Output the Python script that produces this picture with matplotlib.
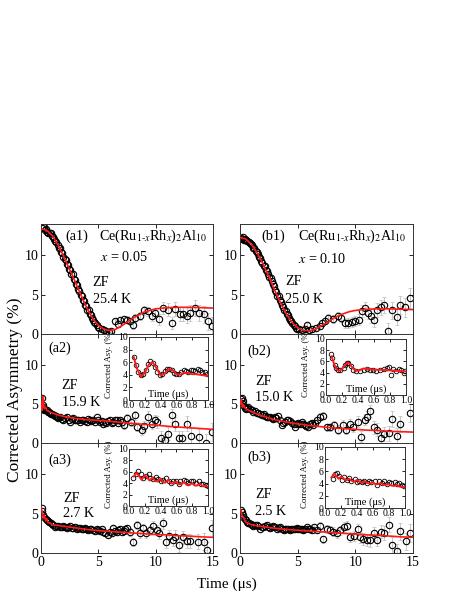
import matplotlib
matplotlib.use("Agg")
import matplotlib.pyplot as plt
import numpy as np

plt.rcParams['font.family'] = ['Liberation Serif', 'DejaVu Serif']
plt.rcParams['mathtext.fontset'] = 'stix'

# ---------------- main panels: data (early dense part, late part with errors) and fits
# (a1) x = 0.05, 25.4 K
t_a1 = [0.05, 0.15, 0.25, 0.35, 0.45, 0.55, 0.65, 0.75, 0.85, 0.95,
        1.05, 1.15, 1.25, 1.35, 1.45, 1.55, 1.65, 1.75, 1.85, 1.95,
        2.05, 2.15, 2.25, 2.35, 2.45, 2.55, 2.65, 2.75, 2.85, 2.95,
        3.05, 3.15, 3.25, 3.35, 3.45, 3.55, 3.65, 3.75, 3.85, 3.95,
        4.05, 4.15, 4.25, 4.35, 4.45, 4.55, 4.65, 4.75, 4.85, 4.95]
A_a1 = [13.5, 13.7, 13.6, 13.3, 13.4, 13.0, 12.9, 12.8, 12.8, 12.5,
        12.3, 12.1, 11.8, 11.7, 11.3, 11.0, 10.9, 10.4, 10.3, 9.8,
        9.6, 9.4, 8.9, 8.8, 8.3, 8.1, 7.7, 7.6, 7.0, 6.9,
        6.4, 6.2, 5.7, 5.5, 5.0, 4.8, 4.3, 4.2, 3.7, 3.6,
        3.1, 3.0, 2.5, 2.4, 2.0, 1.8, 1.5, 1.4, 1.1, 0.9]
t_a1_late = [5.1, 5.3, 5.5, 5.7, 5.9, 6.1, 6.45, 6.7, 6.9, 7.2,
             7.5, 7.76, 8.0, 8.2, 8.6, 8.95, 9.35, 9.65, 9.9, 10.3,
             10.66, 11.1, 11.4, 11.7, 12.1, 12.4, 12.7, 13.0, 13.4, 13.8,
             14.2, 14.6, 14.9]
A_a1_late = [0.75, 0.6, 0.5, 0.4, 0.3, 0.35, 1.6, 1.3, 1.8, 1.9,
             1.8, 1.6, 1.2, 2.0, 2.3, 3.0, 2.9, 2.3, 2.7, 1.85,
             3.3, 3.1, 1.4, 3.2, 2.5, 2.6, 2.3, 2.7, 3.3, 2.7,
             2.5, 1.6, 1.0]
e_a1_late = [0.2, 0.2, 0.2, 0.25, 0.25, 0.3, 0.35, 0.35, 0.4, 0.4,
             0.45, 0.45, 0.5, 0.5, 0.55, 0.6, 0.6, 0.65, 0.65, 0.7,
             0.75, 0.8, 0.8, 0.85, 0.9, 0.9, 0.95, 1.0, 1.0, 1.05,
             1.1, 1.1, 1.15]
tf_a1 = [0, 0.5, 1, 1.5, 2, 2.5, 3, 3.5, 4, 4.5, 5, 5.5, 6, 6.5, 7, 7.5, 8, 8.5, 9, 9.5,
         10, 11, 12, 13, 14, 15]
Af_a1 = [13.4, 13.2, 12.5, 11.3, 9.8, 8.2, 6.6, 4.9, 3.3, 2.0, 1.1, 0.6, 0.45, 0.6, 1.0,
         1.5, 2.0, 2.4, 2.8, 3.0, 3.2, 3.35, 3.4, 3.4, 3.35, 3.3]

# (b1) x = 0.10, 25.0 K
t_b1 = t_a1
A_b1 = [12.2, 12.1, 12.3, 12.0, 12.1, 12.0, 11.8, 11.7, 11.6, 11.4,
        11.3, 11.0, 10.9, 10.6, 10.4, 10.2, 9.8, 9.7, 9.3, 9.1,
        8.7, 8.6, 8.2, 8.0, 7.7, 7.2, 7.1, 6.7, 6.4, 6.1,
        5.6, 5.4, 4.9, 4.8, 4.3, 4.1, 3.7, 3.5, 3.1, 2.9,
        2.5, 2.4, 2.0, 1.8, 1.6, 1.4, 1.1, 1.0, 0.8, 0.7]
t_b1_late = [5.1, 5.35, 5.6, 5.8, 6.0, 6.2, 6.6, 6.9, 7.1, 7.37,
             7.66, 8.1, 8.5, 8.8, 9.1, 9.4, 9.7, 9.95, 10.3, 10.6,
             10.8, 11.1, 11.4, 11.6, 11.9, 12.2, 12.5, 12.85, 13.2, 13.6,
             13.9, 14.3, 14.7]
A_b1_late = [0.6, 0.5, 0.7, 1.1, 0.5, 0.7, 0.8, 1.0, 1.4, 1.7,
             2.1, 1.9, 2.3, 2.1, 1.35, 1.4, 1.55, 1.7, 1.8, 2.9,
             3.3, 2.7, 2.3, 1.8, 3.1, 3.4, 3.7, 0.4, 3.0, 2.2,
             3.7, 3.4, 4.6]
e_b1_late = [0.2, 0.2, 0.25, 0.25, 0.25, 0.3, 0.35, 0.35, 0.4, 0.4,
             0.45, 0.5, 0.5, 0.55, 0.6, 0.6, 0.65, 0.65, 0.7, 0.75,
             0.75, 0.8, 0.85, 0.85, 0.9, 0.95, 1.0, 1.0, 1.05, 1.1,
             1.15, 1.2, 1.3]
tf_b1 = tf_a1
Af_b1 = [12.3, 12.1, 11.4, 10.3, 8.9, 7.3, 5.6, 4.0, 2.6, 1.5, 0.8, 0.45, 0.4, 0.6, 1.0,
         1.4, 1.9, 2.3, 2.6, 2.85, 3.0, 3.15, 3.2, 3.2, 3.15, 3.1]

# (a2) 15.9 K
t_a2 = [0.05, 0.1, 0.15, 0.2, 0.25, 0.3, 0.4, 0.5, 0.6, 0.7,
        0.8, 0.9, 1.0, 1.1, 1.2, 1.3, 1.4, 1.5, 1.65, 1.8,
        1.95, 2.1, 2.24, 2.4, 2.53, 2.7, 2.82, 2.95, 3.1, 3.25,
        3.4, 3.55, 3.7, 3.85, 3.98, 4.1, 4.27, 4.4, 4.56, 4.7,
        4.85]
A_a2 = [4.5, 5.8, 4.6, 4.9, 4.4, 4.3, 4.2, 4.2, 4.0, 4.0,
        3.8, 3.7, 3.7, 3.6, 3.5, 3.45, 3.4, 3.2, 3.3, 3.1,
        3.0, 3.2, 3.3, 3.0, 2.7, 3.1, 3.15, 2.9, 3.0, 2.9,
        2.7, 3.0, 2.9, 2.8, 2.7, 3.1, 3.0, 2.8, 2.9, 2.7,
        3.3]
t_a2_late = [5.0, 5.14, 5.28, 5.4, 5.55, 5.7, 5.85, 6.0, 6.15, 6.3,
             6.45, 6.6, 6.75, 6.9, 7.05, 7.24, 7.5, 7.82, 8.2, 8.4,
             8.78, 9.0, 9.36, 9.65, 9.94, 10.1, 10.5, 10.8, 11.1, 11.4,
             11.7, 12.0, 12.3, 12.7, 13.1, 13.8, 14.4, 14.9]
A_a2_late = [2.9, 2.7, 2.8, 2.5, 2.7, 2.6, 2.8, 2.9, 2.6, 2.7,
             2.9, 2.9, 2.6, 2.9, 2.7, 2.3, 3.15, 2.7, 3.55, 2.1,
             1.65, 2.2, 3.4, 2.5, 2.9, 2.7, 0.7, 0.38, 1.2, 3.55,
             2.5, 0.7, 0.6, 2.5, 0.95, 0.8, 0.05, 1.4]
e_a2_late = [0.3, 0.3, 0.3, 0.3, 0.35, 0.35, 0.35, 0.4, 0.4, 0.4,
             0.4, 0.45, 0.45, 0.45, 0.5, 0.5, 0.55, 0.55, 0.6, 0.6,
             0.65, 0.65, 0.7, 0.7, 0.75, 0.75, 0.8, 0.8, 0.85, 0.85,
             0.9, 0.9, 0.95, 0.95, 1.0, 1.05, 1.1, 1.15]
tf_a2 = [0, 0.05, 0.1, 0.15, 0.2, 0.25, 0.3, 0.4, 0.5, 0.75, 1, 1.5, 2, 3, 4, 5, 6, 7, 8, 9,
         10, 11, 12, 13, 14, 15]
Af_a2 = [4.6, 5.2, 4.2, 5.5, 6.0, 4.6, 4.4, 4.6, 4.2, 4.0, 3.85, 3.6, 3.4, 3.15, 3.0, 2.9,
         2.8, 2.65, 2.5, 2.4, 2.3, 2.15, 2.05, 1.95, 1.85, 1.75]

# (a3) 2.7 K
t_a3 = [0.05, 0.1, 0.2, 0.3, 0.4, 0.5, 0.6, 0.74, 0.85, 0.93,
        1.05, 1.22, 1.35, 1.5, 1.65, 1.8, 1.95, 2.1, 2.25, 2.38,
        2.52, 2.67, 2.8, 2.96, 3.1, 3.25, 3.4, 3.54, 3.68, 3.8,
        3.95, 4.1, 4.25, 4.4, 4.55, 4.7, 4.85]
A_a3 = [5.7, 5.3, 4.8, 4.6, 4.3, 4.2, 4.1, 4.0, 3.8, 3.7,
        3.6, 3.35, 3.5, 3.45, 3.3, 3.35, 3.4, 3.3, 3.2, 3.3,
        3.4, 3.15, 3.2, 3.3, 3.1, 3.15, 3.2, 3.0, 3.1, 3.15,
        3.0, 2.9, 3.1, 3.0, 2.9, 2.85, 3.0]
t_a3_late = [4.99, 5.15, 5.3, 5.45, 5.6, 5.8, 6.0, 6.15, 6.3, 6.45,
             6.6, 6.75, 6.9, 7.05, 7.2, 7.35, 7.5, 7.76, 8.05, 8.34,
             8.63, 8.92, 9.2, 9.5, 9.8, 10.1, 10.3, 10.6, 10.9, 11.2,
             11.5, 11.7, 12.06, 12.35, 12.7, 13.0, 13.7, 14.2, 14.5, 14.9]
A_a3_late = [2.9, 2.8, 3.0, 2.7, 2.5, 2.3, 2.7, 2.6, 3.15, 2.8,
             2.7, 2.9, 3.0, 2.7, 2.85, 3.0, 3.15, 2.7, 1.45, 3.55,
             2.5, 3.15, 2.5, 2.9, 3.45, 2.9, 2.5, 3.8, 1.45, 2.2,
             1.65, 2.1, 1.0, 2.0, 1.55, 1.55, 1.45, 1.45, 0.38, 3.15]
e_a3_late = [0.25, 0.25, 0.3, 0.3, 0.3, 0.3, 0.35, 0.35, 0.35, 0.35,
             0.4, 0.4, 0.4, 0.4, 0.45, 0.45, 0.45, 0.5, 0.5, 0.55,
             0.55, 0.6, 0.6, 0.6, 0.65, 0.65, 0.7, 0.7, 0.75, 0.75,
             0.8, 0.8, 0.85, 0.85, 0.9, 0.9, 1.0, 1.05, 1.05, 1.1]
tf_a3 = [0, 0.1, 0.2, 0.3, 0.4, 0.5, 0.6, 0.8, 1, 1.5, 2, 3, 4, 5, 6, 7, 8, 9, 10, 11,
         12, 13, 14, 15]
Af_a3 = [5.8, 5.3, 4.4, 4.8, 4.1, 4.4, 3.9, 3.8, 3.6, 3.5, 3.4, 3.2, 3.0, 2.85, 2.75,
         2.65, 2.55, 2.45, 2.35, 2.3, 2.2, 2.15, 2.05, 2.0]

# (b2) 15.0 K
t_b2 = [0.05, 0.14, 0.2, 0.29, 0.36, 0.43, 0.5, 0.6, 0.72, 0.85,
        1.0, 1.15, 1.3, 1.45, 1.6, 1.75, 1.9, 2.05, 2.2, 2.33,
        2.46, 2.6, 2.75, 2.88, 3.0, 3.15, 3.3, 3.45, 3.6, 3.75,
        3.9, 4.05, 4.2, 4.35, 4.5, 4.65, 4.77, 4.92]
A_b2 = [5.6, 5.8, 5.1, 5.4, 4.8, 4.5, 4.4, 4.5, 4.6, 4.4,
        4.3, 4.0, 4.1, 3.9, 3.85, 3.7, 3.6, 3.7, 3.5, 3.4,
        3.35, 3.3, 3.2, 3.1, 3.35, 3.2, 3.5, 2.9, 2.3, 2.6,
        2.75, 2.9, 3.0, 2.8, 2.6, 2.5, 2.1, 2.4]
t_b2_late = [5.06, 5.2, 5.35, 5.5, 5.6, 5.75, 5.9, 6.05, 6.2, 6.35,
             6.5, 6.7, 6.9, 7.2, 7.5, 7.8, 8.15, 8.5, 8.9, 9.2,
             9.5, 9.8, 10.2, 10.5, 10.8, 11.0, 11.3, 11.6, 11.9, 12.2,
             12.5, 12.9, 13.2, 13.6, 13.9, 14.7]
A_b2_late = [2.6, 2.4, 2.75, 2.5, 2.3, 2.2, 2.1, 2.4, 2.6, 2.3,
             2.6, 3.0, 3.35, 3.5, 2.0, 2.0, 2.3, 1.7, 2.3, 1.7,
             2.45, 2.1, 2.75, 0.8, 3.0, 3.4, 4.1, 2.0, 1.7, 0.7,
             1.2, 1.25, 3.1, 0.9, 2.45, 3.85]
e_b2_late = [0.3, 0.3, 0.3, 0.3, 0.35, 0.35, 0.35, 0.35, 0.4, 0.4,
             0.4, 0.4, 0.45, 0.45, 0.5, 0.5, 0.55, 0.55, 0.6, 0.6,
             0.65, 0.65, 0.7, 0.7, 0.75, 0.75, 0.8, 0.8, 0.85, 0.85,
             0.9, 0.95, 1.0, 1.0, 1.05, 1.15]
tf_b2 = [0, 0.1, 0.2, 0.3, 0.5, 1, 1.5, 2, 3, 4, 5, 6, 7, 8, 9, 10, 11, 12, 13, 14, 15]
Af_b2 = [5.0, 5.6, 4.6, 4.9, 4.4, 4.0, 3.7, 3.45, 3.0, 2.7, 2.45, 2.25, 2.1, 1.95, 1.85,
         1.75, 1.65, 1.6, 1.5, 1.45, 1.4]

# (b3) 2.5 K
t_b3 = [0.05, 0.15, 0.22, 0.29, 0.4, 0.52, 0.62, 0.72, 0.82, 0.92,
        1.04, 1.16, 1.3, 1.45, 1.6, 1.73, 1.87, 2.0, 2.15, 2.3,
        2.45, 2.6, 2.75, 2.9, 3.05, 3.2, 3.35, 3.5, 3.65, 3.8,
        3.9, 4.0, 4.15, 4.3, 4.45, 4.6, 4.75, 4.9]
A_b3 = [5.5, 5.2, 4.9, 4.6, 4.3, 4.15, 4.0, 3.85, 3.8, 3.7,
        3.6, 3.5, 3.55, 3.6, 3.4, 3.1, 3.3, 3.3, 3.4, 3.6,
        3.3, 3.2, 3.3, 3.5, 3.3, 3.1, 3.2, 3.3, 3.1, 2.9,
        3.0, 3.1, 3.0, 2.9, 3.0, 3.1, 3.0, 3.2]
t_b3_late = [5.05, 5.2, 5.35, 5.5, 5.65, 5.8, 5.95, 6.1, 6.25, 6.4,
             6.65, 6.9, 7.2, 7.5, 7.8, 8.1, 8.4, 8.7, 9.0, 9.25,
             9.5, 9.85, 10.2, 10.4, 10.7, 11.0, 11.3, 11.6, 11.9, 12.2,
             12.5, 12.9, 13.2, 13.6, 13.9, 14.4, 14.7]
A_b3_late = [3.1, 3.0, 3.1, 2.9, 3.0, 3.3, 3.1, 3.0, 2.9, 3.3,
             2.9, 3.5, 1.75, 3.1, 2.9, 2.7, 2.5, 2.9, 3.3, 3.5,
             2.0, 2.2, 3.0, 2.0, 1.8, 1.7, 1.6, 2.5, 1.7, 2.7,
             2.5, 3.6, 1.0, 0.2, 2.75, 1.5, 2.6]
e_b3_late = [0.3, 0.3, 0.3, 0.3, 0.35, 0.35, 0.35, 0.35, 0.4, 0.4,
             0.4, 0.45, 0.45, 0.5, 0.5, 0.55, 0.55, 0.6, 0.6, 0.6,
             0.65, 0.65, 0.7, 0.7, 0.75, 0.75, 0.8, 0.8, 0.85, 0.85,
             0.9, 0.95, 1.0, 1.0, 1.05, 1.1, 1.15]
tf_b3 = tf_b2
Af_b3 = [5.6, 5.4, 4.6, 4.5, 3.9, 3.6, 3.45, 3.35, 3.15, 3.0, 2.9, 2.8, 2.7, 2.6, 2.5,
         2.4, 2.3, 2.25, 2.15, 2.05, 2.0]

# ---------------- insets (early times, 0-1 us)
ti_a2 = [0.06, 0.09, 0.12, 0.15, 0.18, 0.21, 0.24, 0.27, 0.30, 0.33,
         0.36, 0.39, 0.42, 0.45, 0.48, 0.51, 0.54, 0.57, 0.60, 0.63,
         0.66, 0.69, 0.72, 0.75, 0.78, 0.81, 0.84, 0.87, 0.90, 0.93,
         0.96, 0.99]
Ai_a2 = [6.9, 5.6, 4.4, 3.9, 4.1, 4.8, 5.7, 6.2, 5.9, 5.2,
         4.4, 3.9, 4.1, 4.6, 4.9, 5.0, 4.7, 4.3, 4.1, 4.2,
         4.5, 4.7, 4.6, 4.5, 4.7, 4.8, 4.6, 4.9, 4.7, 4.5,
         4.4, 4.2]
tif_a2 = [0.06, 0.1, 0.15, 0.2, 0.25, 0.3, 0.35, 0.4, 0.45, 0.5,
          0.55, 0.6, 0.65, 0.7, 0.75, 0.8, 0.85, 0.9, 0.95, 1.0]
Aif_a2 = [6.8, 5.0, 3.7, 4.3, 5.6, 6.0, 5.0, 3.9, 4.2, 4.9,
          4.8, 4.1, 4.0, 4.3, 4.3, 4.1, 4.1, 4.0, 3.9, 3.85]

ti_a3 = [0.055, 0.09, 0.12, 0.15, 0.18, 0.22, 0.25, 0.27, 0.31, 0.34,
         0.37, 0.40, 0.43, 0.47, 0.50, 0.53, 0.56, 0.59, 0.63, 0.65,
         0.69, 0.72, 0.75, 0.78, 0.81, 0.85, 0.88, 0.91, 0.94, 0.97,
         0.996]
Ai_a3 = [4.9, 5.7, 6.1, 5.7, 5.0, 5.3, 5.6, 5.0, 4.7, 5.1,
         4.7, 4.3, 4.5, 4.9, 4.4, 4.1, 4.4, 4.3, 3.8, 4.3,
         4.5, 4.3, 4.1, 4.4, 4.3, 4.1, 4.3, 3.9, 3.9, 3.7,
         3.5]
tif_a3 = [0.06, 0.1, 0.13, 0.16, 0.2, 0.23, 0.26, 0.3, 0.33, 0.36,
          0.4, 0.43, 0.46, 0.5, 0.53, 0.56, 0.6, 0.63, 0.66, 0.7,
          0.73, 0.76, 0.8, 0.83, 0.86, 0.9, 0.93, 0.96, 1.0]
Aif_a3 = [5.2, 5.8, 5.2, 4.6, 5.4, 5.0, 4.5, 5.0, 4.4, 4.3,
          4.8, 4.2, 4.1, 4.6, 4.0, 3.9, 4.3, 3.8, 3.8, 4.2,
          3.7, 3.7, 4.0, 3.6, 3.6, 3.9, 3.5, 3.5, 3.4]

ti_b2 = [0.06, 0.08, 0.11, 0.13, 0.15, 0.17, 0.22, 0.24, 0.26, 0.28,
         0.31, 0.34, 0.38, 0.42, 0.47, 0.51, 0.55, 0.59, 0.63, 0.68,
         0.72, 0.76, 0.79, 0.81, 0.84, 0.88, 0.91, 0.94, 0.97, 0.99]
Ai_b2 = [7.4, 6.6, 5.4, 4.8, 4.4, 4.4, 4.8, 5.4, 5.8, 5.7,
         5.1, 4.5, 4.2, 4.2, 4.5, 4.6, 4.5, 4.4, 4.2, 4.5,
         4.6, 4.8, 5.0, 3.6, 4.6, 4.2, 4.6, 4.5, 4.0, 4.3]
tif_b2 = [0.07, 0.1, 0.13, 0.16, 0.2, 0.24, 0.27, 0.3, 0.34, 0.38,
          0.42, 0.46, 0.5, 0.6, 0.7, 0.8, 0.9, 1.0]
Aif_b2 = [6.9, 5.6, 4.6, 4.3, 4.6, 5.4, 5.8, 5.5, 4.7, 4.3,
          4.4, 4.7, 4.7, 4.5, 4.5, 4.4, 4.3, 4.2]

ti_b3 = [0.1, 0.12, 0.15, 0.17, 0.21, 0.24, 0.27, 0.3, 0.33, 0.37,
         0.4, 0.43, 0.46, 0.49, 0.52, 0.55, 0.58, 0.62, 0.65, 0.68,
         0.71, 0.74, 0.77, 0.8, 0.83, 0.87, 0.9, 0.93, 0.96, 0.99]
Ai_b3 = [4.75, 5.5, 5.7, 5.3, 4.6, 5.1, 4.6, 4.9, 4.4, 4.7,
         4.2, 4.5, 4.2, 4.4, 4.1, 4.5, 4.2, 4.4, 3.8, 4.4,
         4.1, 4.4, 4.0, 4.2, 4.1, 4.2, 4.0, 4.1, 3.8, 3.6]
tif_b3 = [0.08, 0.11, 0.14, 0.17, 0.2, 0.23, 0.26, 0.3, 0.33, 0.36,
          0.4, 0.43, 0.46, 0.5, 0.53, 0.56, 0.6, 0.63, 0.66, 0.7,
          0.73, 0.76, 0.8, 0.83, 0.86, 0.9, 0.93, 0.96, 1.0]
Aif_b3 = [5.0, 5.6, 5.3, 4.8, 5.1, 4.9, 4.5, 4.8, 4.5, 4.3,
          4.6, 4.3, 4.1, 4.4, 4.1, 4.0, 4.2, 3.9, 3.9, 4.1,
          3.8, 3.8, 3.9, 3.7, 3.6, 3.8, 3.5, 3.5, 3.4]

compound = r'Ce(Ru$_{1\text{-}x}$Rh$_x$)$_2$Al$_{10}$'


def style(ax, fs):
    ax.tick_params(direction='in', top=True, right=True, labelsize=fs,
                   width=0.6, length=3, pad=2)
    for s in ax.spines.values():
        s.set_linewidth(0.7)
        s.set_color('#333333')


def main_panel(rect, t, A, tl, Al, el, tf, Af, show_x):
    ax = fig.add_axes(rect)
    ax.errorbar(tl, Al, yerr=el, fmt='none', ecolor='#bdbdbd', elinewidth=0.6,
                capsize=1.2, capthick=0.5, zorder=1)
    ax.plot(t, A, 'o', mfc='none', mec='black', ms=4.6, mew=0.8, zorder=2)
    ax.plot(tl, Al, 'o', mfc='none', mec='black', ms=4.6, mew=0.8, zorder=2)
    ax.plot(tf, Af, '-', color='#ff1a1a', lw=1.2, zorder=3)
    ax.set_xlim(0, 15)
    ax.set_ylim(0, 14)
    ax.set_xticks([0, 5, 10, 15])
    ax.set_yticks([0, 5, 10])
    style(ax, 10)
    if not show_x:
        ax.tick_params(labelbottom=False)
    return ax


def inset(rect, t, A, tf, Af):
    ax = fig.add_axes(rect)
    ax.plot(t, A, 'o', mfc='none', mec='black', ms=3.3, mew=0.6, zorder=2)
    ax.plot(tf, Af, '-', color='#ff1a1a', lw=1.4, zorder=3)
    ax.set_xlim(0, 1.0)
    ax.set_ylim(0, 10)
    ax.set_xticks([0.0, 0.2, 0.4, 0.6, 0.8, 1.0])
    ax.set_yticks([0, 2, 4, 6, 8, 10])
    ax.xaxis.set_major_formatter(matplotlib.ticker.FormatStrFormatter('%.1f'))
    style(ax, 7)
    ax.tick_params(length=2, pad=1)
    ax.text(0.5, 0.01, u'Time (\u03bcs)', transform=ax.transAxes, ha='center',
            va='bottom', fontsize=7.5)
    ax.set_ylabel('Corrected Asy. (%)', fontsize=6.3)
    ax.yaxis.set_label_coords(-0.2, 0.56)
    return ax


fig = plt.figure(figsize=(4.69, 6.07), dpi=100)

W, H = 469.0, 607.0
colx = [41 / W, 240 / W]
colw = [172 / W, 173 / W]
rows = [(224, 334), (334, 443), (443, 553)]


def rect(c, r):
    top, bot = rows[r]
    return [colx[c], 1 - bot / H, colw[c], (bot - top) / H]


a1 = main_panel(rect(0, 0), t_a1, A_a1, t_a1_late, A_a1_late, e_a1_late, tf_a1, Af_a1, False)
a2 = main_panel(rect(0, 1), t_a2, A_a2, t_a2_late, A_a2_late, e_a2_late, tf_a2, Af_a2, False)
a3 = main_panel(rect(0, 2), t_a3, A_a3, t_a3_late, A_a3_late, e_a3_late, tf_a3, Af_a3, True)
b1 = main_panel(rect(1, 0), t_b1, A_b1, t_b1_late, A_b1_late, e_b1_late, tf_b1, Af_b1, False)
b2 = main_panel(rect(1, 1), t_b2, A_b2, t_b2_late, A_b2_late, e_b2_late, tf_b2, Af_b2, False)
b3 = main_panel(rect(1, 2), t_b3, A_b3, t_b3_late, A_b3_late, e_b3_late, tf_b3, Af_b3, True)

# panel labels and annotations
kw = dict(fontsize=10.2, va='center')
a1.text(0.14, 0.89, '(a1)', transform=a1.transAxes, **kw)
a1.text(0.34, 0.89, compound, transform=a1.transAxes, **kw)
a1.text(0.345, 0.70, r'$x$ = 0.05', transform=a1.transAxes, **kw)
a1.text(0.30, 0.465, 'ZF', transform=a1.transAxes, **kw)
a1.text(0.30, 0.315, '25.4 K', transform=a1.transAxes, **kw)

b1.text(0.125, 0.89, '(b1)', transform=b1.transAxes, **kw)
b1.text(0.335, 0.89, compound, transform=b1.transAxes, **kw)
b1.text(0.335, 0.68, r'$x$ = 0.10', transform=b1.transAxes, **kw)
b1.text(0.26, 0.475, 'ZF', transform=b1.transAxes, **kw)
b1.text(0.26, 0.31, '25.0 K', transform=b1.transAxes, **kw)

a2.text(0.04, 0.87, '(a2)', transform=a2.transAxes, **kw)
a2.text(0.12, 0.53, 'ZF', transform=a2.transAxes, **kw)
a2.text(0.12, 0.37, '15.9 K', transform=a2.transAxes, **kw)

a3.text(0.04, 0.845, '(a3)', transform=a3.transAxes, **kw)
a3.text(0.13, 0.50, 'ZF', transform=a3.transAxes, **kw)
a3.text(0.13, 0.36, '2.7 K', transform=a3.transAxes, **kw)

b2.text(0.04, 0.84, '(b2)', transform=b2.transAxes, **kw)
b2.text(0.087, 0.56, 'ZF', transform=b2.transAxes, **kw)
b2.text(0.087, 0.42, '15.0 K', transform=b2.transAxes, **kw)

b3.text(0.04, 0.87, '(b3)', transform=b3.transAxes, **kw)
b3.text(0.087, 0.53, 'ZF', transform=b3.transAxes, **kw)
b3.text(0.087, 0.375, '2.5 K', transform=b3.transAxes, **kw)

inset([129 / W, 1 - 400 / H, 79 / W, 63 / H], ti_a2, Ai_a2, tif_a2, Aif_a2)
inset([129 / W, 1 - 506 / H, 79 / W, 57 / H], ti_a3, Ai_a3, tif_a3, Aif_a3)
inset([326 / W, 1 - 395 / H, 80 / W, 56 / H], ti_b2, Ai_b2, tif_b2, Aif_b2)
inset([325 / W, 1 - 508 / H, 80 / W, 61 / H], ti_b3, Ai_b3, tif_b3, Aif_b3)

fig.text(15 / W, 1 - 390 / H, 'Corrected Asymmetry (%)', rotation=90,
         ha='center', va='center', fontsize=12.5)
fig.text(227 / W, 1 - 584 / H, u'Time (\u03bcs)', ha='center', va='center',
         fontsize=11)

fig.savefig('out.png', dpi=100)
